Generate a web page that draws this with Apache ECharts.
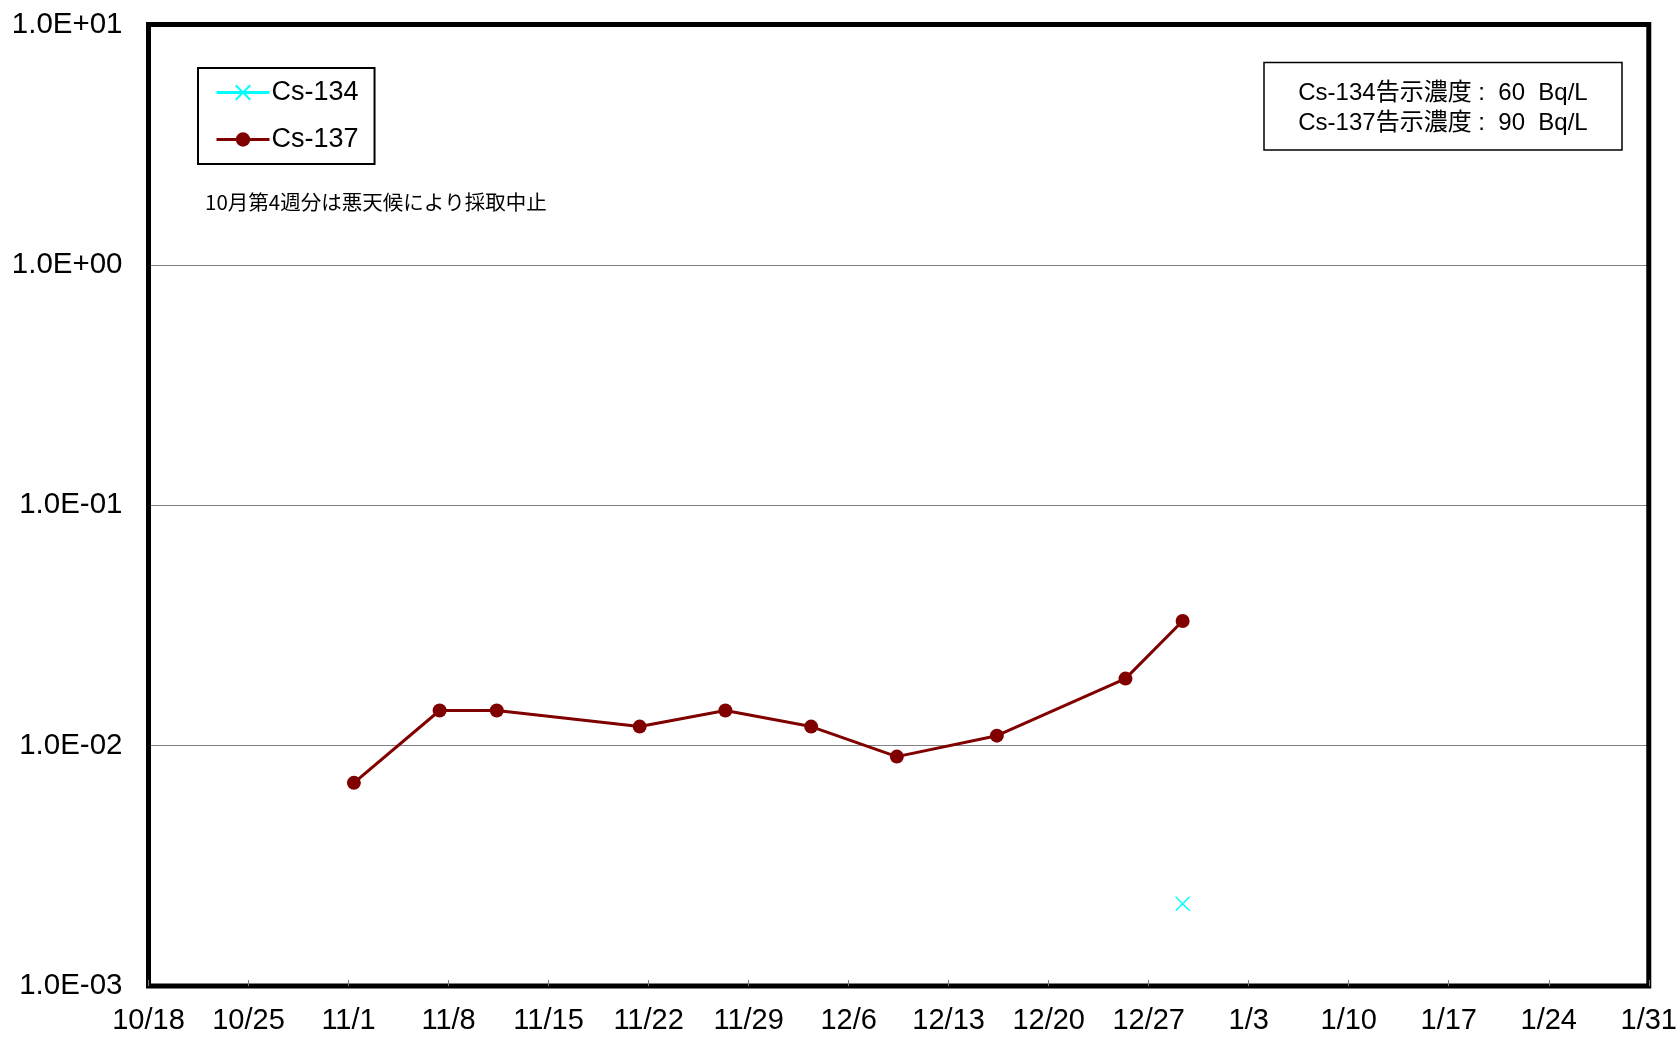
<!DOCTYPE html>
<html>
<head>
<meta charset="utf-8">
<script src="https://cdn.jsdelivr.net/npm/echarts@6/dist/echarts.min.js"></script>
<style>
  html, body { margin: 0; padding: 0; background: #fff; }
  #chart { width: 1680px; height: 1039px; }
</style>
</head>
<body>
<div id="chart"></div>
<script>
// sampling dates (sampled around 9:00)
const cs137Dates = ['2012-11-01 09:00', '2012-11-07 09:00', '2012-11-11 09:00', '2012-11-21 09:00', '2012-11-27 09:00',
  '2012-12-03 09:00', '2012-12-09 09:00', '2012-12-16 09:00', '2012-12-25 09:00', '2012-12-29 09:00']
const cs137Values = [0.0070, 0.014, 0.014, 0.012, 0.014, 0.012, 0.0090, 0.011, 0.019, 0.033]
const cs134Dates = ['2012-12-29 09:00']
const cs134Values = [0.0022]

const xTickLabels = ['10/18', '10/25', '11/1', '11/8', '11/15', '11/22', '11/29', '12/6',
  '12/13', '12/20', '12/27', '1/3', '1/10', '1/17', '1/24', '1/31']
const yTickLabels = ['1.0E-03', '1.0E-02', '1.0E-01', '1.0E+00', '1.0E+01']

const noteText = '10月第4週分は悪天候により採取中止'
const limitLines = ['Cs-134告示濃度 :  60  Bq/L', 'Cs-137告示濃度 :  90  Bq/L']

const toUTC = (s) => {
  const [d, t] = s.split(' ')
  const [y, m, dd] = d.split('-').map(Number)
  const [h, mi] = (t || '0:0').split(':').map(Number)
  return Date.UTC(y, m - 1, dd, h, mi)
}

const DAY = 86400000
const WEEK = 7 * DAY
const xMin = Date.UTC(2012, 9, 18)
const xMax = Date.UTC(2013, 0, 31)

const FONT = "'Liberation Sans', Arial, 'Noto Sans CJK JP', sans-serif"

let myChart = echarts.init(document.getElementById('chart'))

let option = {
  animation: false,
  textStyle: { fontFamily: FONT, color: '#000' },
  grid: {
    left: 148.5,
    right: 30,
    top: 24.5,
    bottom: 53,
    show: true,
    borderColor: '#000',
    borderWidth: 5,
    backgroundColor: '#fff',
  },
  legend: {
    orient: 'vertical',
    left: 198,
    top: 68,
    padding: [11, 16, 11, 17],
    itemGap: 20,
    itemWidth: 53,
    itemHeight: 18,
    borderColor: '#000',
    borderWidth: 2,
    backgroundColor: '#fff',
    lineStyle: { width: 3 },
    textStyle: { fontSize: 27, fontFamily: FONT, color: '#000', padding: [0, 0, 0, -3] },
    data: ['Cs-134', 'Cs-137'],
  },
  xAxis: {
    type: 'value',
    min: xMin,
    max: xMax,
    interval: WEEK,
    axisLine: { show: false },
    splitLine: { show: false },
    axisTick: { show: true, inside: true, length: 6, lineStyle: { color: '#808080', width: 1 } },
    axisLabel: {
      fontSize: 29,
      margin: 20,
      color: '#000',
      showMinLabel: true,
      showMaxLabel: true,
      formatter: (v) => xTickLabels[Math.round((v - xMin) / WEEK)] || '',
    },
  },
  yAxis: {
    type: 'log',
    logBase: 10,
    min: 0.001,
    max: 10,
    axisLine: { show: false },
    axisTick: { show: false },
    minorTick: { show: false },
    splitLine: { show: true, lineStyle: { color: '#000', type: [1, 1], width: 1 } },
    axisLabel: {
      fontSize: 29.5,
      margin: 26,
      color: '#000',
      formatter: (v) => yTickLabels[Math.round(Math.log10(v)) + 3] || '',
    },
  },
  graphic: [
    {
      type: 'text',
      left: 205,
      top: 192,
      style: { text: noteText, fontSize: 20.5, fontFamily: "'Noto Sans CJK JP', sans-serif", fill: '#000' },
    },
    {
      type: 'rect',
      shape: { x: 1264, y: 62.5, width: 358, height: 87.5 },
      style: { fill: '#fff', stroke: '#000', lineWidth: 1.5 },
    },
    {
      type: 'text',
      x: 1443,
      y: 93,
      style: { text: limitLines[0], fontSize: 24, fontFamily: FONT, fill: '#000', align: 'center', verticalAlign: 'middle' },
    },
    {
      type: 'text',
      x: 1443,
      y: 123,
      style: { text: limitLines[1], fontSize: 24, fontFamily: FONT, fill: '#000', align: 'center', verticalAlign: 'middle' },
    },
  ],
  series: [
    {
      name: 'Cs-134',
      type: 'line',
      data: cs134Dates.map((d, i) => [toUTC(d), cs134Values[i]]),
      symbol: 'path://M0,0L10,10M10,0L0,10',
      symbolSize: 14,
      itemStyle: { color: '#00FFFF', borderColor: '#00FFFF', borderWidth: 1.5 },
      lineStyle: { color: '#00FFFF', width: 3 },
    },
    {
      name: 'Cs-137',
      type: 'line',
      data: cs137Dates.map((d, i) => [toUTC(d), cs137Values[i]]),
      symbol: 'circle',
      symbolSize: 14,
      itemStyle: { color: '#800000' },
      lineStyle: { color: '#800000', width: 3 },
    },
  ],
}

myChart.setOption(option)
</script>
</body>
</html>
